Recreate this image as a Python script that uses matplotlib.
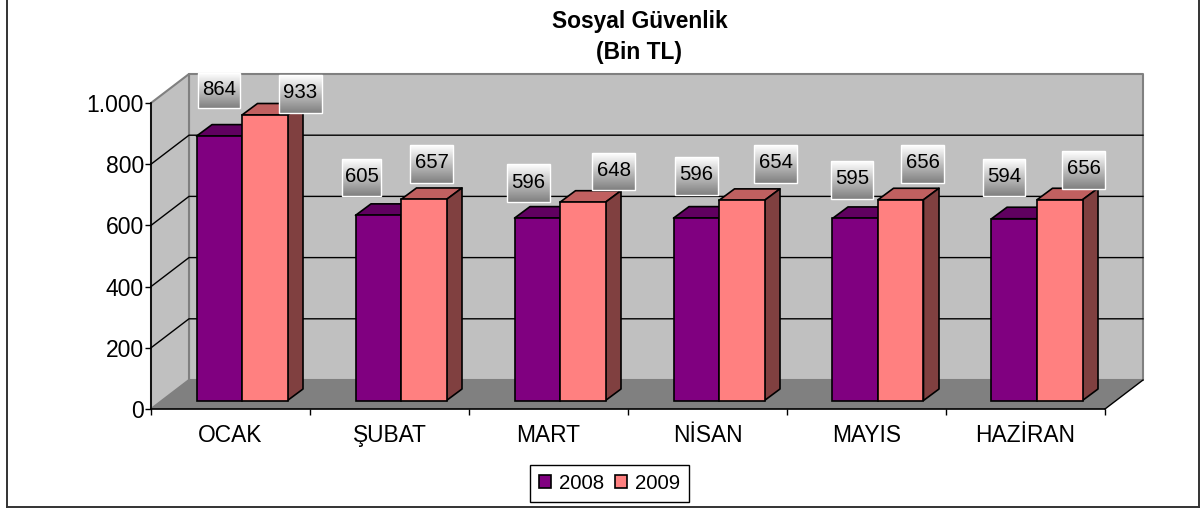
import matplotlib
matplotlib.use("Agg")
import matplotlib.pyplot as plt
import numpy as np
from matplotlib.lines import Line2D
from matplotlib.patches import Patch, Polygon, Rectangle
from matplotlib.transforms import Affine2D

plt.rcParams['font.family'] = ['Liberation Sans', 'DejaVu Sans']

months = ["OCAK", "ŞUBAT", "MART", "NİSAN", "MAYIS", "HAZİRAN"]
values_2008 = [864, 605, 596, 596, 595, 594]
values_2009 = [933, 657, 648, 654, 656, 656]
y_ticks = [0, 200, 400, 600, 800, 1000]
y_tick_labels = ["0", "200", "400", "600", "800", "1.000"]

# label boxes were dragged by hand in the original: x0, x1, y0, y1 in pixels from top left
boxes_2008 = [(198, 240, 73, 108), (342, 381, 159, 196), (507, 550, 164, 202),
              (675, 718, 157, 195), (831, 873, 161, 199), (983, 1025, 159, 196)]
boxes_2009 = [(279, 322, 75, 113), (410, 453, 145, 183), (592, 635, 153, 190),
              (754, 797, 145, 183), (901, 944, 145, 183), (1062, 1105, 151, 189)]

W, H = 1200, 508
AX_L, AX_R, AX_TOP, AX_BOT = 151, 1105, 103, 409
px_x = (AX_R - AX_L) / 6
px_y = (AX_BOT - AX_TOP) / 1000

fig = plt.figure(figsize=(W / 100, H / 100), dpi=100)
ax = fig.add_axes([AX_L / W, 1 - AX_BOT / H, (AX_R - AX_L) / W, (AX_BOT - AX_TOP) / H])
ax.patch.set_visible(False)
px = Affine2D().scale(1, -1).translate(0, H)


def pt(x, v, dx=0, dy=0):
    # category/value position shifted backwards in depth by dx, dy pixels
    return (x + dx / px_x, v + dy / px_y)


def poly(points, color, edge="none", lw=0, z=1):
    ax.add_patch(Polygon(points, closed=True, facecolor=color, edgecolor=edge,
                         linewidth=lw, zorder=z, clip_on=False, joinstyle="round"))


DX, DY = 38, 29
WALL = "#c0c0c0"
FLOOR = "#808080"

# walls and floor
poly([pt(0, 0, DX, DY), pt(6, 0, DX, DY), pt(6, 1000, DX, DY), pt(0, 1000, DX, DY)], WALL, "#808080", 1.5)
poly([pt(0, 0), pt(0, 0, DX, DY), pt(0, 1000, DX, DY), pt(0, 1000)], WALL, "#808080", 1.5)
poly([pt(0, 0), pt(6, 0), pt(6, 0, DX, DY), pt(0, 0, DX, DY)], FLOOR, z=1.5)

for v in y_ticks[1:-1]:
    ax.plot(*zip(pt(0, v), pt(0, v, DX, DY), pt(6, v, DX, DY)), color="black", lw=1, zorder=2, clip_on=False)
ax.plot(*zip(pt(6, 0), pt(6, 0, DX, DY)), color="black", lw=1, zorder=2, clip_on=False)

# 3d bars
BAR_W = 45.5 / px_x
GROUP_L = 33.5 / px_x
FRONT_X, FRONT_Y = 12, 8.5
DEPTH_X, DEPTH_Y = 15.5, 11.5
series = [(values_2008, 0, "#800080", "#600060", "#400040"),
          (values_2009, 1, "#ff8080", "#c06060", "#804040")]

for n, (vals, pos, face, top, side) in enumerate(series):
    for i, v in enumerate(vals):
        x0 = i + GROUP_L + pos * BAR_W
        x1 = x0 + BAR_W
        z = 3 + i + n * 0.5
        a = FRONT_X + DEPTH_X
        b = FRONT_Y + DEPTH_Y
        poly([pt(x0, v, FRONT_X, FRONT_Y), pt(x1, v, FRONT_X, FRONT_Y), pt(x1, v, a, b), pt(x0, v, a, b)],
             top, "black", 1.2, z)
        poly([pt(x1, 0, FRONT_X, FRONT_Y), pt(x1, 0, a, b), pt(x1, v, a, b), pt(x1, v, FRONT_X, FRONT_Y)],
             side, "black", 1.2, z)
        ax.bar(x0 + FRONT_X / px_x, v, width=BAR_W, bottom=FRONT_Y / px_y, align="edge",
               color=face, edgecolor="black", linewidth=1.2, zorder=z + 0.1, clip_on=False)

# value labels on gradient boxes
gradient = np.linspace(1, 0.5, 64).reshape(-1, 1)
for vals, boxes in [(values_2008, boxes_2008), (values_2009, boxes_2009)]:
    for v, (x0, x1, y0, y1) in zip(vals, boxes):
        ax.imshow(gradient, cmap="gray", vmin=0, vmax=1, aspect="auto", extent=(x0, x1, y1, y0),
                  transform=px, zorder=20, clip_on=False)
        ax.add_patch(Rectangle((x0, y0), x1 - x0, y1 - y0, transform=px, facecolor="none",
                               edgecolor="white", linewidth=1, zorder=21, clip_on=False))
        ax.text((x0 + x1) / 2, (y0 + y1) / 2 - 1, str(v), transform=px, ha="center", va="center",
                fontsize=14.7, color="black", zorder=22, clip_on=False)

# axes
ax.set_xlim(0, 6)
ax.set_ylim(0, 1000)
for s in ["top", "right"]:
    ax.spines[s].set_visible(False)
for s in ["left", "bottom"]:
    ax.spines[s].set_linewidth(1.2)
    ax.spines[s].set_zorder(2.5)
ax.set_yticks(y_ticks, y_tick_labels, fontsize=16.5)
ax.set_xticks(range(7), [""] * 7)
ax.set_xticks(np.arange(6) + 0.5, months, minor=True, fontsize=16.4)
ax.tick_params(axis="y", length=4, width=1, pad=1)
ax.tick_params(axis="x", which="major", length=4, width=1)
ax.tick_params(axis="x", which="minor", length=0, pad=11)

fig.suptitle("Sosyal Güvenlik\n(Bin TL)", x=639.5 / W, y=1 - 37 / H, va="center", fontsize=16.4,
             fontweight="bold", linespacing=1.45)

handles = [Patch(facecolor="#800080", edgecolor="black", linewidth=1.2, label="2008"),
           Patch(facecolor="#ff8080", edgecolor="black", linewidth=1.2, label="2009")]
fig.legend(handles=handles, loc="center", bbox_to_anchor=(609.5 / W, 1 - 483.5 / H), ncol=2, fontsize=14.7,
           frameon=True, fancybox=False, edgecolor="black", framealpha=1, handlelength=0.6, handleheight=0.62,
           handletextpad=0.4, columnspacing=0.5, borderpad=0.42, borderaxespad=0)

# outer chart frame, open at the top
for xs, ys in [((6.5, 6.5), (0, 507)), ((6.5, 1199), (507, 507)), ((1199, 1199), (0, 507))]:
    fig.add_artist(Line2D(xs, ys, transform=px, color="#333333", lw=1.4))

fig.savefig("out.png", dpi=100)
